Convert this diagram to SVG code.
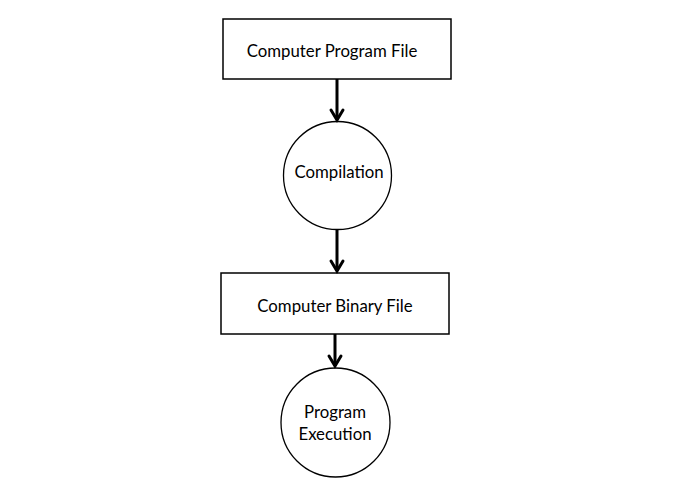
<svg xmlns="http://www.w3.org/2000/svg" width="676" height="496" viewBox="0 0 676 496">
<defs>
<style>
.box{fill:#fff;stroke:#000;stroke-width:1.5}
.node{fill:#fff;stroke:#000;stroke-width:1.3}
.lbl{font-family:Lato,"Open Sans","Liberation Sans",sans-serif;font-size:16.8px;fill:#000;text-anchor:middle}
.conn{stroke:#000;stroke-width:3;fill:none}
.head{stroke:#000;stroke-width:3;fill:none;stroke-linecap:round;stroke-linejoin:miter}
</style>
</defs>
<rect width="676" height="496" fill="#fff"/>
<g id="program-file">
<rect class="box" x="223" y="19" width="228" height="60"/>
<text class="lbl" x="332" y="57">Computer Program File</text>
</g>
<g id="compilation">
<circle class="node" cx="337.5" cy="175.5" r="54"/>
<text class="lbl" x="339" y="178">Compilation</text>
</g>
<g id="binary-file">
<rect class="box" x="221" y="273" width="228" height="61"/>
<text class="lbl" x="335" y="312">Computer Binary File</text>
</g>
<g id="execution">
<circle class="node" cx="335.5" cy="422.5" r="54.5"/>
<text class="lbl" x="335" y="418">Program</text>
<text class="lbl" x="335" y="440">Execution</text>
</g>
<g id="connectors">
<line class="conn" x1="337" y1="79" x2="337" y2="120"/>
<polyline class="head" points="331,110 337,120 343,110"/>
<line class="conn" x1="337" y1="229" x2="337" y2="271"/>
<polyline class="head" points="331,261 337,271 343,261"/>
<line class="conn" x1="335" y1="334" x2="335" y2="366"/>
<polyline class="head" points="329,356 335,366 341,356"/>
</g>
</svg>
